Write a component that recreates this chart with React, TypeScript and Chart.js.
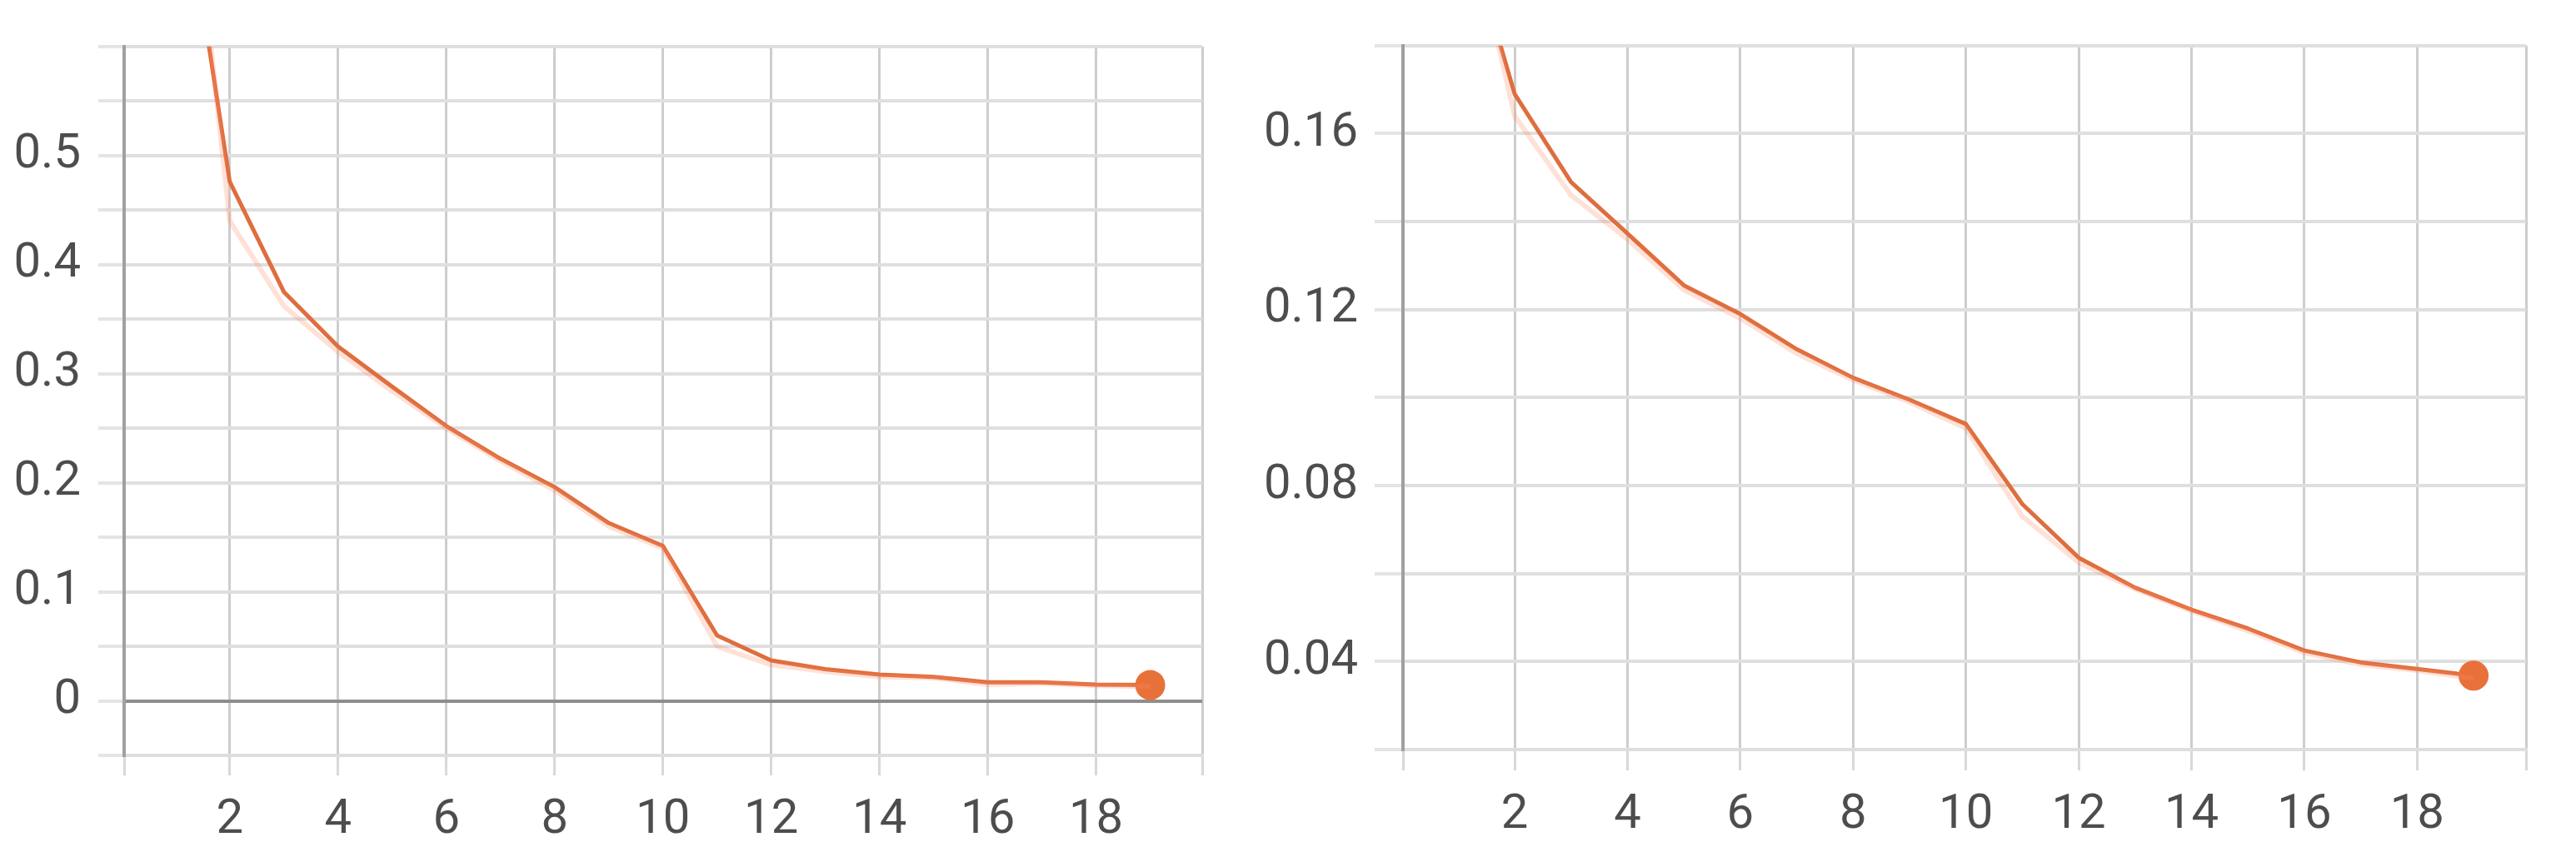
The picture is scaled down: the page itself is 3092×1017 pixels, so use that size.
import React, { useEffect, useRef } from "react";
import { Chart, registerables } from "chart.js";

Chart.register(...registerables);

// ---- data ----
const steps = [1, 2, 3, 4, 5, 6, 7, 8, 9, 10, 11, 12, 13, 14, 15, 16, 17, 18, 19];

const leftSmoothed = [0.8, 0.476, 0.375, 0.325, 0.288, 0.252, 0.222, 0.196, 0.163, 0.142, 0.06, 0.037, 0.029, 0.024, 0.022, 0.017, 0.017, 0.015, 0.0145];
const leftRaw = [0.9, 0.44, 0.362, 0.32, 0.284, 0.25, 0.22, 0.193, 0.16, 0.14, 0.05, 0.033, 0.027, 0.022, 0.021, 0.015, 0.016, 0.014, 0.013];

const rightSmoothed = [0.213, 0.169, 0.149, 0.1373, 0.1255, 0.119, 0.111, 0.1045, 0.0995, 0.094, 0.0758, 0.0636, 0.0568, 0.0518, 0.0475, 0.0425, 0.0398, 0.0383, 0.0368];
const rightRaw = [0.22, 0.164, 0.146, 0.136, 0.1245, 0.118, 0.11, 0.104, 0.099, 0.093, 0.073, 0.0625, 0.0565, 0.0515, 0.047, 0.042, 0.0393, 0.038, 0.0362];

const xTickValues = [2, 4, 6, 8, 10, 12, 14, 16, 18];

const leftYTicks = [-0.05, 0, 0.05, 0.1, 0.15, 0.2, 0.25, 0.3, 0.35, 0.4, 0.45, 0.5, 0.55, 0.6];
const leftYLabels = [0, 0.1, 0.2, 0.3, 0.4, 0.5];

const rightYTicks = [0.02, 0.04, 0.06, 0.08, 0.1, 0.12, 0.14, 0.16, 0.18];
const rightYLabels = [0.04, 0.08, 0.12, 0.16];

// ---- style ----
const LINE = "#df6e3e";
const RAW = "rgba(255, 140, 100, 0.26)";
const DOT = "#e8713a";
const TEXT = "#4d4d4d";
const FONT = { family: "Roboto, 'Noto Sans', sans-serif", size: 58, weight: "400" as any };

type PanelCfg = {
  left: number;
  width: number;
  padTop: number;
  padRight: number;
  yAxisWidth: number;
  xAxisHeight: number;
  xMin: number;
  xMax: number;
  yMin: number;
  yMax: number;
  yTicks: number[];
  yLabels: number[];
  smoothed: number[];
  raw: number[];
  yTickLen: number;
  yPad: number;
  xTickLen: number;
  xPad: number;
};

const fmt = (v: number) => String(Number(v.toFixed(3)));
const near = (a: number, b: number) => Math.abs(a - b) < 1e-9;

function Panel({ cfg }: { cfg: PanelCfg }) {
  const ref = useRef<HTMLCanvasElement | null>(null);
  useEffect(() => {
    if (!ref.current) return;
    const last = steps.length - 1;
    const chart = new Chart(ref.current, {
      type: "line",
      data: {
        datasets: [
          {
            data: steps.map((s, i) => ({ x: s, y: cfg.raw[i] })),
            borderColor: RAW,
            borderWidth: 6,
            pointRadius: 0,
            tension: 0,
            borderJoinStyle: "round",
          },
          {
            data: steps.map((s, i) => ({ x: s, y: cfg.smoothed[i] })),
            borderColor: LINE,
            borderWidth: 5,
            tension: 0,
            borderJoinStyle: "round",
            pointRadius: (ctx: any) => (ctx.dataIndex === last ? 18 : 0),
            pointBackgroundColor: DOT,
            pointBorderWidth: 0,
          },
        ],
      },
      options: {
        animation: false,
        responsive: true,
        maintainAspectRatio: false,
        layout: { padding: { top: cfg.padTop, right: cfg.padRight, left: 0, bottom: 0 } },
        plugins: { legend: { display: false }, tooltip: { enabled: false } },
        scales: {
          x: {
            type: "linear",
            min: cfg.xMin,
            max: cfg.xMax,
            afterBuildTicks: (scale: any) => {
              scale.ticks = [cfg.xMin, ...xTickValues, cfg.xMax].map((v) => ({ value: v }));
            },
            afterFit: (scale: any) => {
              scale.height = cfg.xAxisHeight;
            },
            ticks: {
              autoSkip: false,
              maxRotation: 0,
              font: FONT,
              color: TEXT,
              padding: cfg.xPad,
              callback: (v: any) => (xTickValues.some((t) => near(t, Number(v))) ? String(v) : ""),
            },
            grid: {
              color: "#cdcdcd",
              lineWidth: 3,
              tickLength: cfg.xTickLen,
              tickColor: "#d8d8d8",
            },
            border: { display: true, color: "#dedede", width: 4 },
          },
          y: {
            type: "linear",
            min: cfg.yMin,
            max: cfg.yMax,
            afterBuildTicks: (scale: any) => {
              scale.ticks = cfg.yTicks.map((v) => ({ value: v }));
            },
            afterFit: (scale: any) => {
              scale.width = cfg.yAxisWidth;
            },
            ticks: {
              autoSkip: false,
              font: FONT,
              color: TEXT,
              padding: cfg.yPad,
              callback: (v: any) => (cfg.yLabels.some((t) => near(t, Number(v))) ? fmt(Number(v)) : ""),
            },
            grid: {
              color: (ctx: any) => (ctx.tick && near(ctx.tick.value, 0) ? "#8e8e8e" : "#dfdfdf"),
              lineWidth: 4,
              tickLength: cfg.yTickLen,
              tickColor: "#e4e4e4",
            },
            border: { display: true, color: "#a0a0a0", width: 4 },
          },
        },
      } as any,
    });
    return () => chart.destroy();
  }, [cfg]);
  return (
    <div style={{ position: "absolute", left: cfg.left, top: 0, width: cfg.width, height: 1017 }}>
      <canvas ref={ref} />
    </div>
  );
}

const leftCfg: PanelCfg = {
  left: 0,
  width: 1470,
  padTop: 51,
  padRight: 1470 - 1443,
  yAxisWidth: 149,
  xAxisHeight: 1017 - 907,
  xMin: 0.05,
  xMax: 19.96,
  yMin: -0.05,
  yMax: 0.6,
  yTicks: leftYTicks,
  yLabels: leftYLabels,
  smoothed: leftSmoothed,
  raw: leftRaw,
  yTickLen: 31,
  yPad: 21,
  xTickLen: 24,
  xPad: 20,
};

const rightCfg: PanelCfg = {
  left: 1470,
  width: 1622,
  padTop: 33,
  padRight: 3092 - 3032,
  yAxisWidth: 1684 - 1470,
  xAxisHeight: 1017 - 900,
  xMin: 0.02,
  xMax: 19.93,
  yMin: 0.02,
  yMax: 0.18,
  yTicks: rightYTicks,
  yLabels: rightYLabels,
  smoothed: rightSmoothed,
  raw: rightRaw,
  yTickLen: 34,
  yPad: 20,
  xTickLen: 25,
  xPad: 20,
};

export default function App() {
  return (
    <div
      style={{
        position: "absolute",
        left: 0,
        top: 0,
        width: 3092,
        height: 1017,
        background: "#ffffff",
        overflow: "hidden",
      }}
    >
      <Panel cfg={leftCfg} />
      <Panel cfg={rightCfg} />
    </div>
  );
}
